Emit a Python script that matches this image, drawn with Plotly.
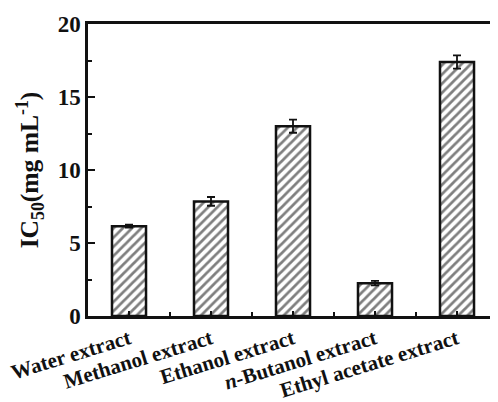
import plotly.graph_objects as go

categories = ["Water extract", "Methanol extract", "Ethanol extract",
              "<i>n</i>-Butanol extract", "Ethyl acetate extract"]
ic50 = [6.15, 7.85, 13.0, 2.25, 17.4]
err = [0.1, 0.3, 0.45, 0.15, 0.45]

x = list(range(len(categories)))
font_family = "Liberation Serif, Times New Roman, serif"

fig = go.Figure()
fig.add_trace(go.Bar(
    x=x, y=ic50, width=0.415,
    marker=dict(color="white",
                line=dict(color="#111", width=2.5),
                pattern=dict(shape="/", fgcolor="#000", bgcolor="white",
                             size=6.5, solidity=0.42)),
    error_y=dict(type="data", array=err, visible=True,
                 color="#111", thickness=1.8, width=4),
))

fig.update_layout(
    width=490, height=394,
    margin=dict(l=80, r=0, t=16, b=86),
    paper_bgcolor="white", plot_bgcolor="white",
    showlegend=False,
    font=dict(family=font_family, color="#111"),
)
fig.update_xaxes(
    range=[-0.5, 4.5], automargin=False,
    tickvals=x, ticktext=["<b>%s</b>" % c for c in categories],
    tickangle=-17, tickfont=dict(size=21, family=font_family),
    ticks="inside", ticklen=5, tickwidth=2, tickcolor="#111",
    minor=dict(tickvals=[0.5, 1.5, 2.5, 3.5], ticks="inside", ticklen=4,
               tickwidth=2, tickcolor="#111"),
    showline=True, linewidth=2.5, linecolor="#111", mirror=True,
    showgrid=False, zeroline=False,
)
fig.update_yaxes(
    range=[0, 20], dtick=5, tick0=0, automargin=False,
    tickfont=dict(size=23, family=font_family),
    tickprefix="<b>", ticksuffix="</b>",
    ticks="inside", ticklen=7, tickwidth=2, tickcolor="#111",
    minor=dict(dtick=2.5, ticks="inside", ticklen=4, tickwidth=2,
               tickcolor="#111"),
    showline=True, linewidth=2.5, linecolor="#111", mirror=False,
    showgrid=False, zeroline=False,
    title=dict(text="<b>IC<sub>50</sub>(mg mL<sup>-1</sup>)</b>",
               font=dict(size=25.5, family=font_family), standoff=12),
)

fig.write_html("out.html")
